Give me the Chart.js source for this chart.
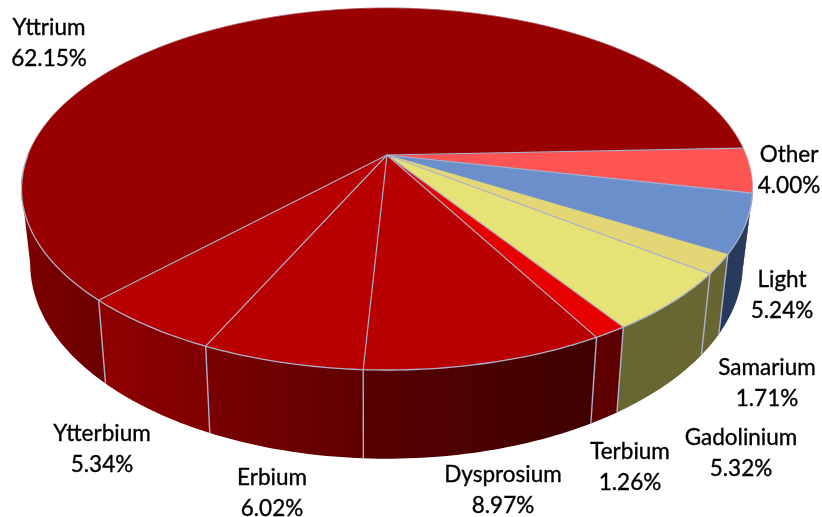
<!DOCTYPE html>
<html>
<head>
<meta charset="utf-8">
<style>
html,body{margin:0;padding:0;background:#fff;}
#wrap{width:822px;height:517px;position:relative;}
canvas{display:block;filter:blur(0.45px);}
</style>
<script src="https://cdn.jsdelivr.net/npm/chart.js@4"></script>
</head>
<body>
<div id="wrap"><canvas id="c" width="822" height="517"></canvas></div>
<script>
const categories = ["Other","Light","Samarium","Gadolinium","Terbium","Dysprosium","Erbium","Ytterbium","Yttrium"];
const shares = [4.00,5.24,1.71,5.32,1.26,8.97,6.02,5.34,62.15];
const topColors = ["#ff5454","#6a8fcb","#e4d674","#e6e276","#e60000","#b80000","#b80000","#b80000","#990000"];
const wallLeft  = ["#26385a","#26385a","#676632","#686732","#5e0000","#560000","#7a0000","#8f0000","#7d0000"];
const wallRight = ["#2a3d60","#2a3d60","#676632","#686732","#5e0000","#3f0000","#5f0000","#800000","#6c0000"];
const labelCenters = [[789,155],[782,280],[767,368],[741,438],[630,452],[503,475],[272,478],[102,434],[49,28]];

// Perspective view of the pie disc
const view = {ax:387, ay:155, A:359, B:174.6, k:0.188, depth:72, vx:370, taper:0.975};
const topPt = (t)=>{
  const X=Math.cos(t), Y=Math.sin(t), s=1/(1-view.k*Y);
  return [view.ax+view.A*X*s, view.ay+view.B*Y*s, s];
};
const botPt = (t)=>{
  const p=topPt(t);
  return [view.vx+(p[0]-view.vx)*view.taper, p[1]+view.depth*p[2]];
};
const DEG=Math.PI/180;
const samples=(a,b)=>{
  const n=Math.max(2,Math.ceil((b-a)/DEG)), out=[];
  for(let i=0;i<=n;i++) out.push(a+(b-a)*i/n);
  return out;
};
const edge="#aab0cb";

const pie3d = {
  id:"pie3d",
  beforeDatasetsDraw(chart){
    const ctx=chart.ctx, arcs=chart.getDatasetMeta(0).data;
    const spans=arcs.map(a=>[a.startAngle,a.endAngle]);
    const wallMin=10.8*DEG, wallMax=169.2*DEG;
    ctx.save();
    ctx.lineJoin="round";
    // walls
    spans.forEach(([a,b],i)=>{
      const lo=Math.max(a,wallMin), hi=Math.min(b,wallMax);
      if(hi<=lo) return;
      const ts=samples(lo,hi), tp=ts.map(topPt), bt=ts.map(botPt);
      const xs=tp.concat(bt).map(p=>p[0]);
      const g=ctx.createLinearGradient(Math.min(...xs),0,Math.max(...xs),0);
      g.addColorStop(0,wallLeft[i]); g.addColorStop(1,wallRight[i]);
      ctx.beginPath();
      tp.forEach((p,j)=>j?ctx.lineTo(p[0],p[1]):ctx.moveTo(p[0],p[1]));
      bt.slice().reverse().forEach(p=>ctx.lineTo(p[0],p[1]));
      ctx.closePath();
      ctx.fillStyle=g; ctx.fill();
    });
    // vertical wall seams
    ctx.strokeStyle=edge; ctx.lineWidth=1.4;
    spans.forEach(([a])=>{
      if(a<20*DEG||a>wallMax) return;
      const p=topPt(a), q=botPt(a);
      ctx.beginPath(); ctx.moveTo(p[0],p[1]); ctx.lineTo(q[0],q[1]); ctx.stroke();
    });
    // top face
    spans.forEach(([a,b],i)=>{
      ctx.beginPath(); ctx.moveTo(view.ax,view.ay);
      samples(a,b).forEach(t=>{const p=topPt(t); ctx.lineTo(p[0],p[1]);});
      ctx.closePath();
      ctx.fillStyle=topColors[i]; ctx.fill();
      ctx.strokeStyle=topColors[i]; ctx.lineWidth=0.6; ctx.stroke();
    });
    // radial lines
    ctx.lineWidth=1.2; ctx.strokeStyle=edge;
    spans.forEach(([a],i)=>{
      const p=topPt(a);
      if(i===2) return;
      ctx.beginPath(); ctx.moveTo(view.ax,view.ay); ctx.lineTo(p[0],p[1]); ctx.stroke();
    });
    // rim
    const rim=(a,b,alpha,w)=>{
      ctx.globalAlpha=alpha; ctx.lineWidth=w;
      ctx.beginPath();
      samples(a,b).forEach((t,j)=>{const p=topPt(t); j?ctx.lineTo(p[0],p[1]):ctx.moveTo(p[0],p[1]);});
      ctx.stroke();
    };
    rim(180*DEG,355*DEG,0.3,1);
    rim(-5*DEG,wallMin,0.5,1);
    rim(wallMin,180*DEG,1,1.3);
    ctx.globalAlpha=1;
    ctx.restore();
    return false;
  },
  afterDraw(chart){
    const ctx=chart.ctx;
    ctx.save();
    ctx.fillStyle="#000";
    ctx.strokeStyle="#000";
    ctx.lineWidth=0.35;
    ctx.font='22.5px Lato, "Open Sans", sans-serif';
    ctx.textAlign="center"; ctx.textBaseline="middle";
    categories.forEach((name,i)=>{
      const [x,y]=labelCenters[i];
      const pct=shares[i].toFixed(2)+"%";
      ctx.fillText(name,x,y); ctx.strokeText(name,x,y);
      ctx.fillText(pct,x,y+31); ctx.strokeText(pct,x,y+31);
    });
    ctx.restore();
  }
};

new Chart(document.getElementById("c"),{
  type:"pie",
  data:{labels:categories,datasets:[{data:shares,backgroundColor:topColors,borderWidth:0}]},
  options:{
    responsive:false,
    animation:false,
    rotation:87.7,
    plugins:{legend:{display:false},tooltip:{enabled:false},title:{display:false}}
  },
  plugins:[pie3d]
});
</script>
</body>
</html>
